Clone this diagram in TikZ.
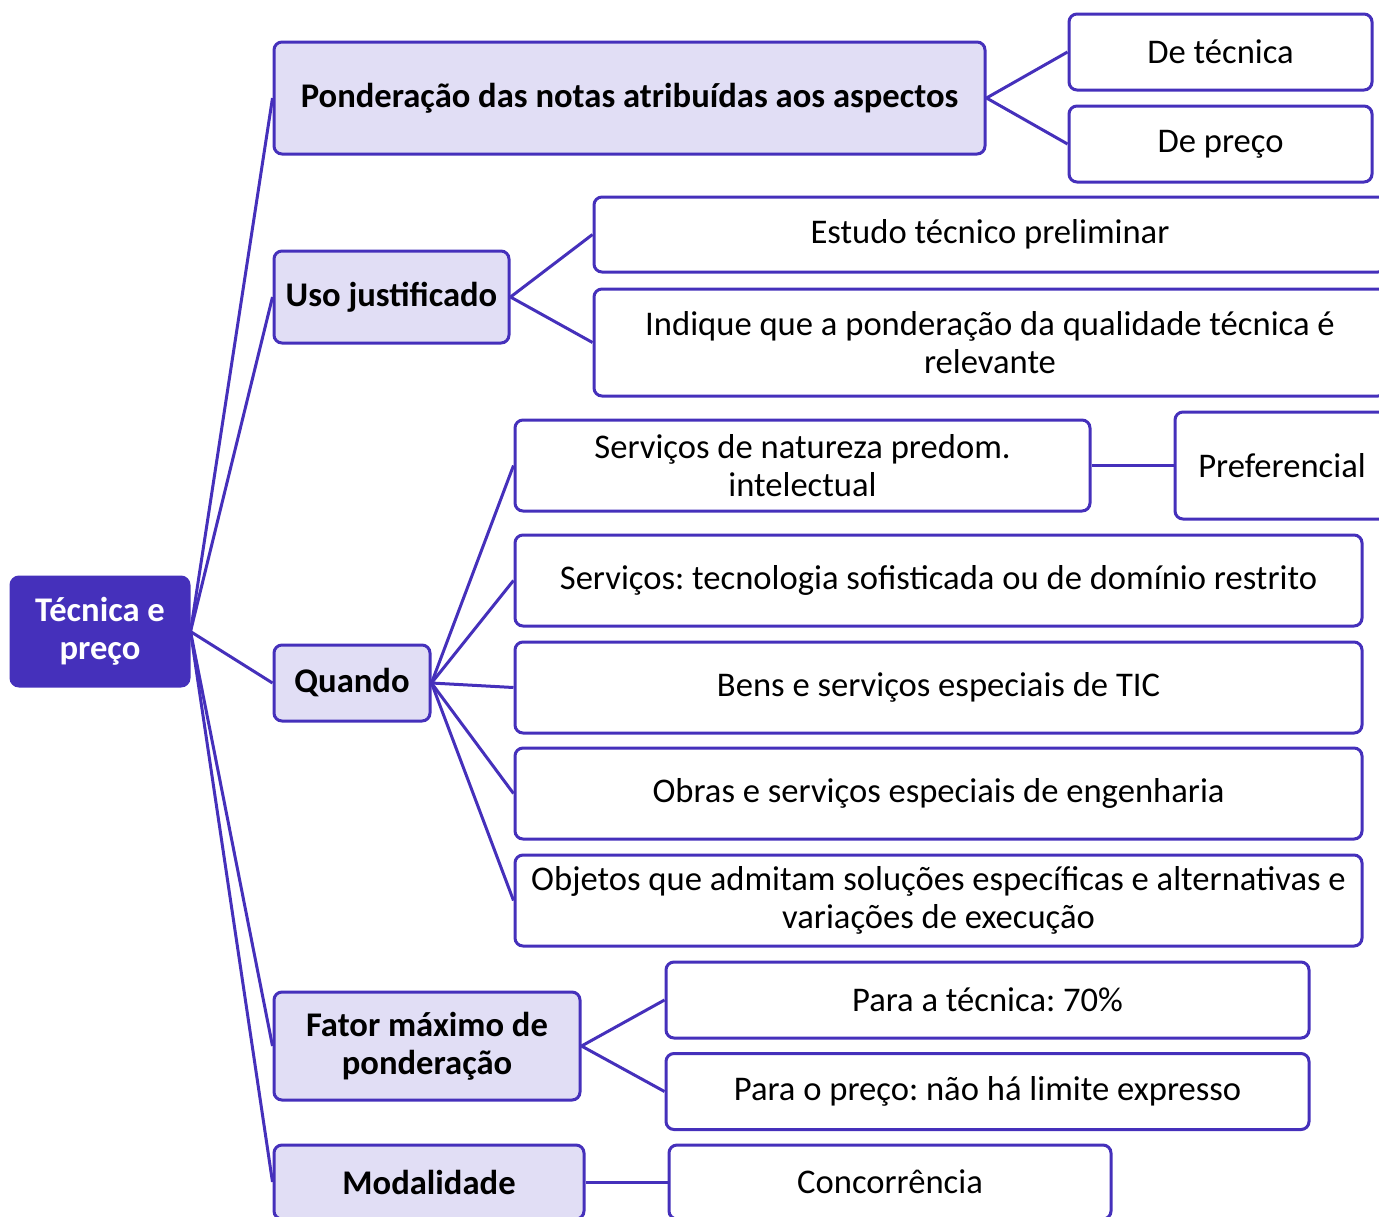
\documentclass[tikz,border=0pt]{standalone}
\usepackage{fontspec}
\setmainfont{Carlito}
\frenchspacing
\definecolor{tdark}{RGB}{69,48,187}
\definecolor{tlight}{RGB}{225,222,245}
\tikzset{
  base/.style={rectangle, rounded corners=4pt, draw=tdark, line width=1.5pt,
    inner sep=2pt, align=center, font=\fontsize{17.3pt}{19pt}\selectfont},
  rootbox/.style={base, fill=tdark, text=white, font=\fontsize{17.3pt}{19pt}\selectfont\bfseries},
  topic/.style={base, fill=tlight, font=\fontsize{17.3pt}{19pt}\selectfont\bfseries},
  leaf/.style={base, fill=white},
}
\begin{document}
\begin{tikzpicture}[x=0.5pt, y=-0.5pt,
    every edge/.style={draw=tdark, line width=1.5pt}]
  \useasboundingbox (0,0) rectangle (1379,1216);
  \clip (0,0) rectangle (1379,1216);
  % root and topics
  \node[rootbox, minimum width=89pt, minimum height=54.5pt] (root) at (100,631.5) {Técnica e\\preço};
  \node[topic, minimum width=355.5pt, minimum height=56pt] (pond) at (629.5,98) {Ponderação das notas atribuídas aos aspectos};
  \node[topic, minimum width=117.5pt, minimum height=46pt] (uso) at (391.5,297) {Uso justificado};
  \node[topic, minimum width=78pt, minimum height=38pt] (quando) at (352,683) {Quando};
  \node[topic, minimum width=153pt, minimum height=54pt] (fator) at (427,1046) {Fator máximo de\\ponderação};
  \node[topic, minimum width=155pt, minimum height=37pt] (modal) at (429,1182) {Modalidade};
  % leaves
  \node[leaf, minimum width=151.5pt, minimum height=38pt] (detec) at (1220.5,52) {De técnica};
  \node[leaf, minimum width=151.5pt, minimum height=38pt] (depreco) at (1220.5,144) {De preço};
  \node[leaf, minimum width=396pt, minimum height=37.5pt] (estudo) at (990,234.5) {Estudo técnico preliminar};
  \node[leaf, minimum width=396pt, minimum height=53.5pt] (indique) at (990,342.5) {Indique que a ponderação da qualidade técnica é\\relevante};
  \node[leaf, minimum width=287.5pt, minimum height=45.5pt] (intelec) at (802.5,465.5) {Serviços de natureza predom.\\intelectual};
  \node[leaf, minimum width=107pt, minimum height=53.5pt] (pref) at (1282,465.5) {Preferencial};
  \node[leaf, minimum width=423.5pt, minimum height=45.5pt] (tecno) at (938.5,580.5) {Serviços: tecnologia sofisticada ou de domínio restrito};
  \node[leaf, minimum width=423.5pt, minimum height=45.5pt] (tic) at (938.5,687.5) {Bens e serviços especiais de TIC};
  \node[leaf, minimum width=423.5pt, minimum height=45.5pt] (obras) at (938.5,793.5) {Obras e serviços especiais de engenharia};
  \node[leaf, minimum width=423.5pt, minimum height=45.5pt] (objetos) at (938.5,900.5) {Objetos que admitam soluções específicas e alternativas e\\variações de execução};
  \node[leaf, minimum width=321.5pt, minimum height=38pt] (ptec) at (987.5,1000) {Para a técnica: 70\%};
  \node[leaf, minimum width=321.5pt, minimum height=38pt] (ppreco) at (987.5,1091.5) {Para o preço: não há limite expresso};
  \node[leaf, minimum width=221pt, minimum height=37pt] (concor) at (890,1182) {Concorrência};
  % connectors
  \path (root.east) edge (pond.west)
                    edge (uso.west)
                    edge (quando.west)
                    edge (fator.west)
                    edge (modal.west);
  \path (pond.east) edge (detec.west)
                    edge (depreco.west);
  \path (uso.east) edge (estudo.west)
                   edge (indique.west);
  \foreach \n in {intelec,tecno,tic,obras,objetos}
    \path (quando.east) edge (\n.west);
  \path (intelec.east) edge (pref.west);
  \path (fator.east) edge (ptec.west)
                     edge (ppreco.west);
  \path (modal.east) edge (concor.west);
\end{tikzpicture}
\end{document}
